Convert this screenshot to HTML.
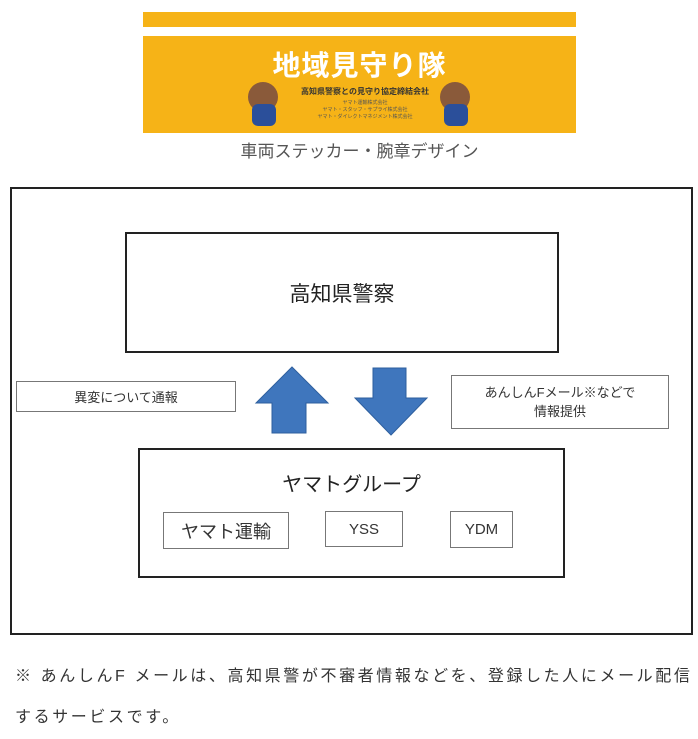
<!DOCTYPE html>
<html><head><meta charset="utf-8"><style>
*{margin:0;padding:0;box-sizing:border-box}
body{width:698px;height:739px;background:#fff;position:relative;overflow:hidden;font-family:"Liberation Sans","Noto Sans CJK JP",sans-serif;color:#222}
.a{position:absolute}
.box{position:absolute;border:2px solid #222;background:#fff}
.lbl{position:absolute;border:1.5px solid #777;background:#fff;display:flex;align-items:center;justify-content:center;text-align:center;color:#333}
</style></head><body>
<div class="a" style="left:143px;top:12px;width:433px;height:15px;background:#f6b317"></div>
<div class="a" style="left:143px;top:36px;width:433px;height:97px;background:#f6b317"></div>
<div class="a" style="left:143px;top:44px;width:433px;text-align:center;color:#fff;font-weight:bold;font-size:28px;letter-spacing:1px">地域見守り隊</div>
<div class="a" style="left:280px;top:86px;width:170px;text-align:center;color:#333;font-size:8px;font-weight:bold">高知県警察との見守り協定締結会社</div>
<div class="a" style="left:300px;top:100px;width:130px;text-align:center;color:#555;font-size:5px;line-height:7px">ヤマト運輸株式会社<br>ヤマト・スタッフ・サプライ株式会社<br>ヤマト・ダイレクトマネジメント株式会社</div>
<div class="a" style="left:248px;top:82px;width:30px;height:30px;border-radius:50%;background:#8a5a3a"></div>
<div class="a" style="left:252px;top:104px;width:24px;height:22px;border-radius:6px;background:#2b4f9a"></div>
<div class="a" style="left:440px;top:82px;width:30px;height:30px;border-radius:50%;background:#8a5a3a"></div>
<div class="a" style="left:444px;top:104px;width:24px;height:22px;border-radius:6px;background:#2b4f9a"></div>
<div class="a" style="left:143px;top:137px;width:433px;text-align:center;font-size:17px;color:#555">車両ステッカー・腕章デザイン</div>

<div class="box" style="left:10px;top:187px;width:683px;height:448px"></div>
<div class="box" style="left:125px;top:232px;width:434px;height:121px;display:flex;align-items:center;justify-content:center;font-size:21px">高知県警察</div>
<div class="lbl" style="left:16px;top:381px;width:220px;height:31px;font-size:13px">異変について通報</div>
<div class="lbl" style="left:451px;top:375px;width:218px;height:54px;font-size:13px;line-height:19px">あんしんFメール※などで<br>情報提供</div>
<svg class="a" style="left:0;top:0" width="698" height="739">
<polygon points="292,367 328,403 306,403 306,433 272,433 272,403 256,403" fill="#3f76bd" stroke="#2e5f9e" stroke-width="1"/>
<polygon points="373,368 406,368 406,398 427,398 391,435 355,398 373,398" fill="#3f76bd" stroke="#2e5f9e" stroke-width="1"/>
</svg>
<div class="box" style="left:138px;top:448px;width:427px;height:130px"></div>
<div class="a" style="left:138px;top:468px;width:427px;text-align:center;font-size:20px">ヤマトグループ</div>
<div class="lbl" style="left:163px;top:512px;width:126px;height:37px;font-size:18px">ヤマト運輸</div>
<div class="lbl" style="left:325px;top:511px;width:78px;height:36px;font-size:15px">YSS</div>
<div class="lbl" style="left:450px;top:511px;width:63px;height:37px;font-size:15px">YDM</div>

<div class="a" style="left:15px;top:662px;font-size:16px;letter-spacing:2.6px;color:#333;white-space:nowrap">※ あんしんF メールは、高知県警が不審者情報などを、登録した人にメール配信</div>
<div class="a" style="left:15px;top:703px;font-size:16px;letter-spacing:2.6px;color:#333;white-space:nowrap">するサービスです。</div>
</body></html>
